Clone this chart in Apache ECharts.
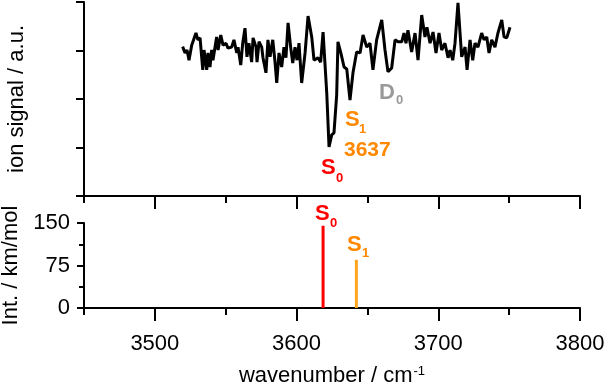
<!DOCTYPE html>
<html><head><meta charset="utf-8">
<script src="https://cdn.jsdelivr.net/npm/echarts@6/dist/echarts.min.js"></script>
<style>html,body{margin:0;padding:0;background:#fff}#c{width:606px;height:384px}</style>
</head><body><div id="c"></div>
<script>
// ---- data ----
const wavenumbers = [3519.6,3521.3,3522.7,3524.1,3526.0,3529.0,3530.4,3531.9,3533.8,3534.7,
3536.6,3537.5,3538.9,3540.1,3541.0,3543.6,3544.6,3546.5,3548.1,3550.2,
3551.6,3554.2,3555.8,3557.8,3558.7,3560.6,3562.0,3563.6,3565.0,3566.4,
3568.3,3569.3,3571.4,3572.1,3573.5,3575.4,3576.3,3578.4,3579.8,3581.3,
3583.2,3584.8,3586.0,3587.6,3589.5,3591.1,3592.5,3594.0,3595.9,3597.3,
3598.9,3600.3,3601.7,3603.6,3606.0,3608.1,3610.7,3612.3,3615.1,3617.0,
3618.7,3621.3,3622.9,3624.8,3626.4,3628.3,3629.2,3631.4,3633.5,3635.4,
3637.7,3639.8,3642.4,3644.8,3646.9,3649.5,3651.8,3653.9,3656.5,3660.1,
3662.4,3664.5,3667.1,3669.5,3671.6,3674.2,3675.8,3677.2,3678.6,3681.2,
3683.6,3685.7,3688.3,3690.6,3692.0,3694.2,3696.3,3698.4,3700.5,3702.4,
3704.7,3706.9,3708.3,3710.2,3711.8,3713.9,3716.5,3718.9,3720.3,3722.4,
3724.3,3725.9,3728.0,3730.6,3732.3,3734.2,3735.8,3737.7,3740.0,3742.1,
3744.8,3746.4,3748.3,3750.6];
const ionSignal = [3.08,2.95,3.01,2.80,3.11,3.36,3.22,3.26,2.60,3.01,
2.60,2.95,2.66,3.01,2.80,3.28,3.01,3.32,3.11,3.15,
3.05,3.07,3.22,2.95,3.07,2.70,3.15,3.46,2.87,3.15,
2.76,3.26,3.07,2.76,3.18,3.07,2.85,2.54,3.22,2.87,
3.22,2.76,2.33,2.95,2.66,3.07,2.85,3.57,3.05,2.74,
3.07,2.80,3.15,2.33,2.95,3.71,3.28,2.80,2.85,2.76,
3.38,2.12,1.01,1.26,1.30,2.08,3.18,2.93,2.66,2.62,
1.98,2.54,2.97,2.95,3.32,3.07,3.15,2.60,3.22,3.63,
3.01,2.56,2.64,3.22,3.18,3.18,3.36,3.15,3.42,2.97,
3.36,2.80,3.73,3.28,3.48,3.15,3.38,2.95,3.36,3.01,
3.15,2.85,3.01,2.80,3.15,3.98,2.87,3.07,2.60,3.22,
2.80,3.15,3.07,3.36,3.22,3.28,2.95,3.22,3.07,3.36,
3.63,3.28,3.26,3.48];
const stickNames = ['S0', 'S1'];
const stickPositions = [3618.7, 3642.2];
const stickIntensities = [145, 85];
const xMajorTicks = [3500, 3600, 3700, 3800];
const xMinorTicks = [3450, 3550, 3650, 3750];
const intMajorTicks = [0, 75, 150];
const intMinorTicks = [37.5, 112.5];
const signalTicks = [0, 1, 2, 3, 4];

// ---- chart ----
const FONT = "'Liberation Sans', Arial, Helvetica, sans-serif";
const RED = '#ff0000', ORANGE_TXT = '#ff8800', ORANGE_STICK = '#ffa51f', GRAY = '#999999';
const axisLine = {show: true, onZero: false, lineStyle: {color: '#000', width: 2}};

function xAx(grid, ticks, len, labels, name) {
  return {
    type: 'value', gridIndex: grid, position: 'bottom', min: 3450, max: 3800,
    axisLine: labels !== null ? axisLine : {show: false},
    axisTick: {show: true, customValues: ticks, length: len, lineStyle: {color: '#000', width: 2}},
    axisLabel: labels ? {show: true, customValues: ticks, fontSize: 22, color: '#000', fontFamily: FONT, margin: 25,
      formatter: v => String(v)} : {show: false},
    splitLine: {show: false},
    name: name || '', nameLocation: 'middle', nameGap: 57,
    nameTextStyle: {fontSize: 22, color: '#000', fontFamily: FONT,
      rich: {sup: {fontSize: 13, color: '#000', fontFamily: FONT, verticalAlign: 'top', padding: [0,0,0,1]}}}
  };
}
function yAx(grid, min, max, ticks, len, withLine, labels, name) {
  return {
    type: 'value', gridIndex: grid, position: 'left', min: min, max: max,
    axisLine: withLine ? axisLine : {show: false},
    axisTick: {show: true, customValues: ticks, length: len, lineStyle: {color: '#000', width: 2}},
    axisLabel: labels ? {show: true, customValues: ticks, fontSize: 22, color: '#000', fontFamily: FONT, margin: 14,
      formatter: v => String(v)} : {show: false},
    splitLine: {show: false},
    name: name || '', nameLocation: 'middle', nameRotate: 90, nameGap: 56,
    nameTextStyle: {fontSize: 22, color: '#000', fontFamily: FONT}
  };
}

const sticks = stickPositions.map((p, i) => ({
  type: 'line', xAxisIndex: 2, yAxisIndex: 1, symbol: 'none', silent: true,
  data: [[p, 0], [p, stickIntensities[i]]],
  lineStyle: {color: i === 0 ? RED : ORANGE_STICK, width: 3}
}));

function label(x, y, main, sub, color, subDx, subDy) {
  return [
    {type: 'text', x: x, y: y, z: 100, style: {text: main, fill: color, font: 'bold 22px ' + FONT, align: 'left', verticalAlign: 'middle'}},
    {type: 'text', x: x + subDx, y: y + subDy, z: 100, style: {text: sub, fill: color, font: 'bold 13px ' + FONT, align: 'left', verticalAlign: 'middle'}}
  ];
}

const graphics = [].concat(
  label(321, 167.5, 'S', '0', RED, 15, 10.5),
  label(345, 120, 'S', '1', ORANGE_TXT, 14, 9),
  [{type: 'text', x: 344, y: 150.5, z: 100, style: {text: '3637', fill: ORANGE_TXT, font: 'bold 21px ' + FONT, align: 'left', verticalAlign: 'middle'}}],
  label(379, 92.5, 'D', '0', GRAY, 17, 8),
  label(315, 213.5, 'S', '0', RED, 15, 9.5),
  label(347, 245, 'S', '1', ORANGE_TXT, 15, 8)
);

const chart = echarts.init(document.getElementById('c'), null, {renderer: 'canvas'});
chart.setOption({
  animation: false,
  backgroundColor: '#fff',
  grid: [
    {left: 84, right: 26, top: 2, height: 194, containLabel: false, outerBoundsMode: 'none'},
    {left: 84, right: 26, top: 223, height: 85, containLabel: false, outerBoundsMode: 'none'}
  ],
  xAxis: [
    xAx(0, xMajorTicks, 13, false),
    xAx(0, xMinorTicks, 7, null),
    xAx(1, xMajorTicks, 13, true, 'wavenumber / cm{sup|-1}'),
    xAx(1, xMinorTicks, 7, null)
  ],
  yAxis: [
    yAx(0, 0, 4, signalTicks, 8, true, false, 'ion signal / a.u.'),
    yAx(1, 0, 150, intMajorTicks, 7, true, true, 'Int. / km/mol'),
    yAx(1, 0, 150, intMinorTicks, 5, false, false)
  ],
  series: [
    {type: 'line', xAxisIndex: 0, yAxisIndex: 0, symbol: 'none', silent: true,
     data: wavenumbers.map((w, i) => [w, ionSignal[i]]),
     lineStyle: {color: '#000', width: 3}}
  ].concat(sticks),
  graphic: graphics
});
</script>
</body></html>
